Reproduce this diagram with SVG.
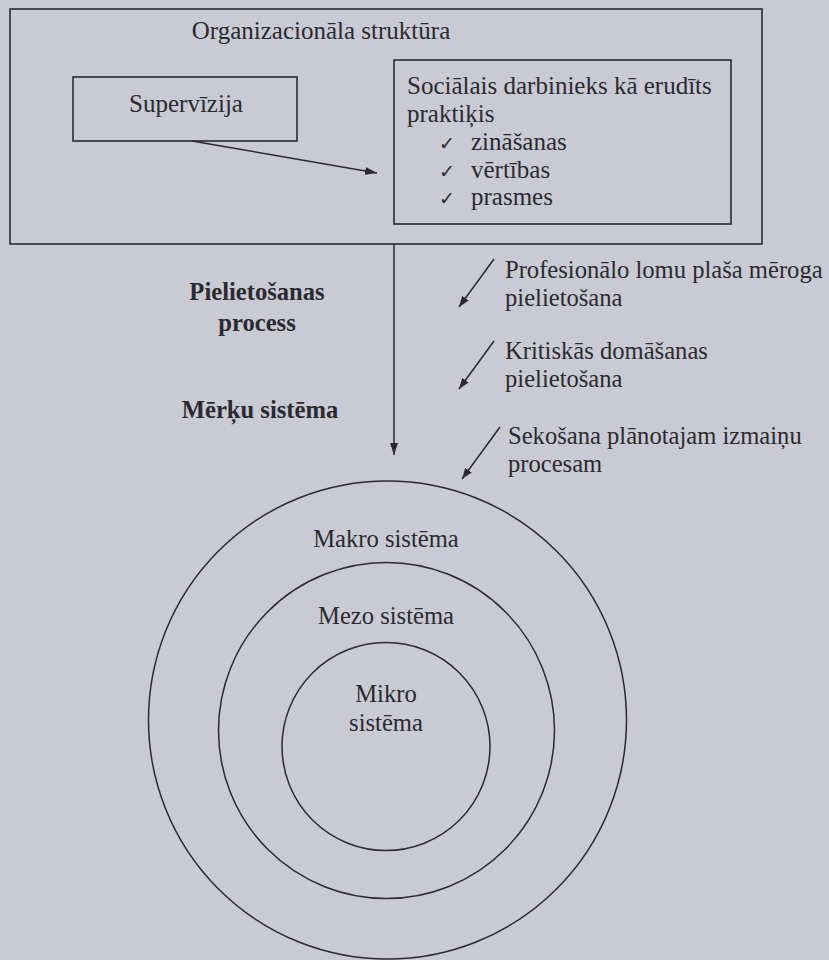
<svg xmlns="http://www.w3.org/2000/svg" width="829" height="960" viewBox="0 0 829 960">
<style>
.t{font-family:"Liberation Serif","Times New Roman","DejaVu Serif",serif;font-size:25px;fill:#2a2a30}
.c{font-family:"Liberation Serif","Times New Roman","DejaVu Serif",serif;font-size:24.6px;fill:#2a2a30}
.b{font-family:"Liberation Serif","Times New Roman","DejaVu Serif",serif;font-size:24.6px;font-weight:bold;fill:#2a2a30}
.ck{font-family:"DejaVu Sans",sans-serif;font-size:19px;fill:#2a2a30}
.box{fill:none;stroke:#2a2a30;stroke-width:1.6}
.ln{fill:none;stroke:#2a2a30;stroke-width:1.5}
.circ{fill:none;stroke:#2a2a30;stroke-width:1.5}
</style>
<defs>
<marker id="ah" viewBox="0 0 12 8" refX="12" refY="4" markerWidth="12" markerHeight="8" markerUnits="userSpaceOnUse" orient="auto">
<path d="M0,0 L12,4 L0,8 Z" fill="#2a2a30"/>
</marker>
<marker id="ah2" viewBox="0 0 11 8" refX="11" refY="4" markerWidth="11" markerHeight="8" markerUnits="userSpaceOnUse" orient="auto">
<path d="M0,0 L11,4 L0,8 Z" fill="#2a2a30"/>
</marker>
</defs>
<rect width="829" height="960" fill="#c9cad3"/>

<g id="organizacionala-struktura">
<rect class="box" x="10" y="9" width="752" height="235"/>
<text class="t" x="321" y="39" text-anchor="middle">Organizacionāla struktūra</text>
</g>

<g id="supervizija">
<rect class="box" x="73" y="77" width="224" height="64"/>
<text class="t" x="186" y="112" text-anchor="middle">Supervīzija</text>
</g>

<g id="socialais-darbinieks">
<rect class="box" x="394" y="60" width="337" height="164"/>
<text class="t" x="407" y="94">Sociālais darbinieks kā erudīts</text>
<text class="t" x="407" y="122">praktiķis</text>
<text class="ck" x="439" y="150">✓</text>
<text class="t" x="471" y="150">zināšanas</text>
<text class="ck" x="439" y="178">✓</text>
<text class="t" x="471" y="178">vērtības</text>
<text class="ck" x="439" y="205">✓</text>
<text class="t" x="471" y="205">prasmes</text>
</g>

<g id="pielietosanas-process">
<text class="b" x="257" y="300" text-anchor="middle">Pielietošanas</text>
<text class="b" x="257" y="331" text-anchor="middle">process</text>
</g>

<g id="merku-sistema">
<text class="b" x="260" y="418" text-anchor="middle">Mērķu sistēma</text>
</g>

<g id="label-profesionalo">
<text class="c" x="505" y="278">Profesionālo lomu plaša mēroga</text>
<text class="c" x="505" y="306">pielietošana</text>
</g>

<g id="label-kritiskas">
<text class="c" x="505" y="359">Kritiskās domāšanas</text>
<text class="c" x="505" y="387">pielietošana</text>
</g>

<g id="label-sekosana">
<text class="c" x="508" y="444">Sekošana plānotajam izmaiņu</text>
<text class="c" x="508" y="472">procesam</text>
</g>

<g id="makro-sistema">
<circle class="circ" cx="387.5" cy="720" r="239"/>
<text class="c" x="386" y="547" text-anchor="middle">Makro sistēma</text>
</g>

<g id="mezo-sistema">
<circle class="circ" cx="386.5" cy="730.5" r="168"/>
<text class="c" x="386" y="624" text-anchor="middle">Mezo sistēma</text>
</g>

<g id="mikro-sistema">
<circle class="circ" cx="386" cy="746.5" r="104"/>
<text class="c" x="386" y="702" text-anchor="middle">Mikro</text>
<text class="c" x="386" y="731" text-anchor="middle">sistēma</text>
</g>

<g id="connectors">
<line class="ln" x1="192" y1="141" x2="377" y2="173" marker-end="url(#ah)"/>
<line class="ln" x1="394" y1="244" x2="394" y2="455" marker-end="url(#ah)"/>
<line class="ln" x1="494" y1="259" x2="459" y2="307" marker-end="url(#ah2)"/>
<line class="ln" x1="494" y1="341" x2="459" y2="389" marker-end="url(#ah2)"/>
<line class="ln" x1="500" y1="427" x2="462" y2="479" marker-end="url(#ah2)"/>
</g>
</svg>
